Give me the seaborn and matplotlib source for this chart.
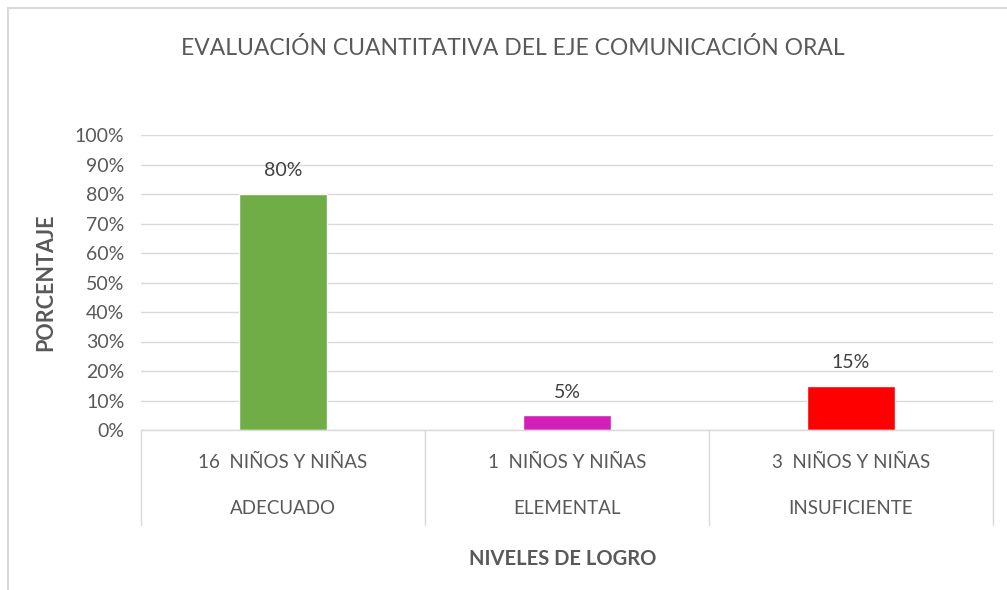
import matplotlib
matplotlib.use("Agg")
import matplotlib.pyplot as plt
import matplotlib.transforms as mtransforms
from matplotlib.ticker import PercentFormatter
import seaborn as sns
import pandas as pd

# Data
niveles = ["ADECUADO", "ELEMENTAL", "INSUFICIENTE"]
cantidades = ["16  NIÑOS Y NIÑAS", "1  NIÑOS Y NIÑAS", "3  NIÑOS Y NIÑAS"]
porcentajes = [0.80, 0.05, 0.15]
colores = ["#70AD47", "#D21FB8", "#FF0000"]

sns.set_theme(style="white")
plt.rcParams["font.family"] = ["Lato", "DejaVu Sans"]

df = pd.DataFrame({"nivel": niveles, "pct": porcentajes})

fig = plt.figure(figsize=(10.07, 5.9), dpi=100)
ax = fig.add_axes([141 / 1007, 160 / 590, 852 / 1007, 295 / 590])

sns.barplot(data=df, x="nivel", y="pct", hue="nivel", palette=colores,
            width=0.31, legend=False, ax=ax, saturation=1)

grey_text = "#595959"
grid_col = "#D9D9D9"

ax.set_xlim(-0.5, 2.5)
ax.set_ylim(0, 1)
ax.set_yticks([i / 10 for i in range(11)])
ax.yaxis.set_major_formatter(PercentFormatter(1.0, decimals=0))
ax.tick_params(axis="y", length=0, labelsize=14, labelcolor=grey_text, pad=12)
ax.yaxis.grid(True, color=grid_col, linewidth=1)
ax.set_axisbelow(True)
for s in ["left", "right", "top"]:
    ax.spines[s].set_visible(False)
ax.spines["bottom"].set_color(grid_col)
ax.spines["bottom"].set_linewidth(1)

# Two-line category labels
ax.set_xticks(range(len(niveles)))
ax.set_xticklabels([f"{c}\n\n{n}" for c, n in zip(cantidades, niveles)],
                   linespacing=1.45)
ax.tick_params(axis="x", length=0, labelsize=13.5, labelcolor=grey_text, pad=17)

# Category cell separators
trans = mtransforms.blended_transform_factory(ax.transData, ax.transAxes)
for xb in [-0.5, 0.5, 1.5, 2.5]:
    ax.plot([xb, xb], [0, -0.322], transform=trans, color=grid_col,
            linewidth=1, clip_on=False)

# Value labels
for i, v in enumerate(porcentajes):
    ax.text(i, v + 0.05, f"{v:.0%}", ha="center", va="bottom",
            fontsize=14, color="#404040")

ax.set_xlabel("NIVELES DE LOGRO", fontsize=14.5, fontweight="bold",
              color=grey_text)
ax.set_ylabel("PORCENTAJE", fontsize=15.5, fontweight="bold",
              color=grey_text)
ax.xaxis.set_label_coords(0.495, -0.405)
ax.yaxis.set_label_coords(-0.1, 0.5)

fig.text(513 / 1007, 1 - 48 / 590, "EVALUACIÓN CUANTITATIVA DEL EJE COMUNICACIÓN ORAL",
         ha="center", va="center", fontsize=16.5, color=grey_text)

# Chart frame
fig.add_artist(plt.Line2D([8 / 1007, 8 / 1007], [0, 1 - 8 / 590],
                          transform=fig.transFigure, color=grid_col, linewidth=1.5))
fig.add_artist(plt.Line2D([8 / 1007, 1], [1 - 8 / 590, 1 - 8 / 590],
                          transform=fig.transFigure, color=grid_col, linewidth=1.5))

fig.savefig("out.png", dpi=100, facecolor="white")
